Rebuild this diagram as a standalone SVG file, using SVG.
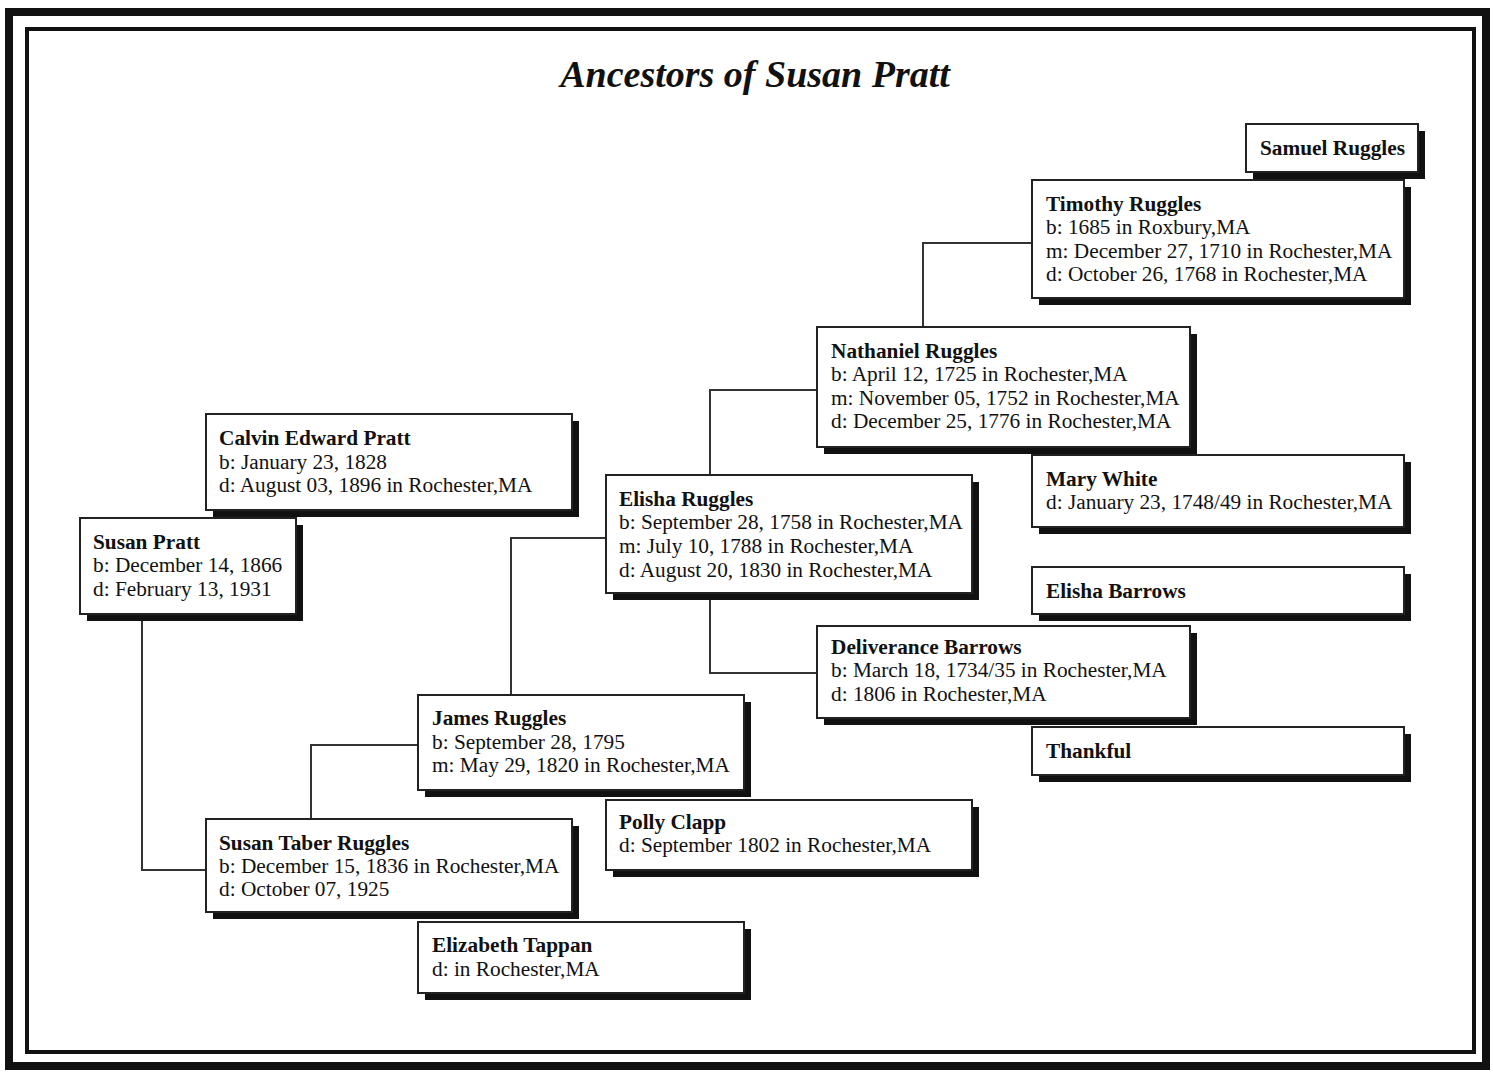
<svg xmlns="http://www.w3.org/2000/svg" width="1493" height="1072" viewBox="0 0 1493 1072">
<style>
.sh{fill:#111}
.bx{fill:#fff;stroke:#222;stroke-width:2}
text{font-family:"Liberation Serif","Times New Roman",serif;font-size:21.3px;fill:#111}
.n{font-weight:bold}
.t{font-size:38px;font-weight:bold;font-style:italic}
.c{fill:none;stroke:#333;stroke-width:2}
</style>
<rect width="1493" height="1072" fill="#fff"/>
<rect x="9" y="12" width="1477" height="1054" fill="none" stroke="#111" stroke-width="8"/>
<rect x="27" y="29" width="1447" height="1023" fill="none" stroke="#111" stroke-width="4"/>
<text class="t" x="755" y="87" text-anchor="middle">Ancestors of Susan Pratt</text>
<g id="connectors">
<polyline class="c" points="142,614 142,870 206,870"/>
<polyline class="c" points="311,819 311,745 418,745"/>
<polyline class="c" points="511,695 511,538 606,538"/>
<polyline class="c" points="710,475 710,390 817,390"/>
<polyline class="c" points="710,593 710,673 817,673"/>
<polyline class="c" points="923,327 923,243 1032,243"/>
</g>
<g id="samuel-ruggles">
<rect class="sh" x="1253" y="131" width="172" height="48"/>
<rect class="bx" x="1246" y="124" width="172" height="48"/>
<text class="n" x="1260" y="155">Samuel Ruggles</text>
</g>
<g id="timothy-ruggles">
<rect class="sh" x="1039" y="187" width="372" height="118"/>
<rect class="bx" x="1032" y="180" width="372" height="118"/>
<text class="n" x="1046" y="211">Timothy Ruggles</text>
<text x="1046" y="234">b: 1685 in Roxbury,MA</text>
<text x="1046" y="258">m: December 27, 1710 in Rochester,MA</text>
<text x="1046" y="281">d: October 26, 1768 in Rochester,MA</text>
</g>
<g id="nathaniel-ruggles">
<rect class="sh" x="824" y="334" width="373" height="120"/>
<rect class="bx" x="817" y="327" width="373" height="120"/>
<text class="n" x="831" y="358">Nathaniel Ruggles</text>
<text x="831" y="381">b: April 12, 1725 in Rochester,MA</text>
<text x="831" y="405">m: November 05, 1752 in Rochester,MA</text>
<text x="831" y="428">d: December 25, 1776 in Rochester,MA</text>
</g>
<g id="mary-white">
<rect class="sh" x="1039" y="462" width="372" height="72"/>
<rect class="bx" x="1032" y="455" width="372" height="72"/>
<text class="n" x="1046" y="486">Mary White</text>
<text x="1046" y="509">d: January 23, 1748/49 in Rochester,MA</text>
</g>
<g id="calvin-edward-pratt">
<rect class="sh" x="213" y="421" width="366" height="96"/>
<rect class="bx" x="206" y="414" width="366" height="96"/>
<text class="n" x="219" y="445">Calvin Edward Pratt</text>
<text x="219" y="469">b: January 23, 1828</text>
<text x="219" y="492">d: August 03, 1896 in Rochester,MA</text>
</g>
<g id="susan-pratt">
<rect class="sh" x="87" y="525" width="216" height="96"/>
<rect class="bx" x="80" y="518" width="216" height="96"/>
<text class="n" x="93" y="549">Susan Pratt</text>
<text x="93" y="572">b: December 14, 1866</text>
<text x="93" y="596">d: February 13, 1931</text>
</g>
<g id="elisha-ruggles">
<rect class="sh" x="613" y="482" width="366" height="118"/>
<rect class="bx" x="606" y="475" width="366" height="118"/>
<text class="n" x="619" y="506">Elisha Ruggles</text>
<text x="619" y="529">b: September 28, 1758 in Rochester,MA</text>
<text x="619" y="553">m: July 10, 1788 in Rochester,MA</text>
<text x="619" y="577">d: August 20, 1830 in Rochester,MA</text>
</g>
<g id="elisha-barrows">
<rect class="sh" x="1039" y="574" width="372" height="47"/>
<rect class="bx" x="1032" y="567" width="372" height="47"/>
<text class="n" x="1046" y="598">Elisha Barrows</text>
</g>
<g id="deliverance-barrows">
<rect class="sh" x="824" y="633" width="373" height="92"/>
<rect class="bx" x="817" y="626" width="373" height="92"/>
<text class="n" x="831" y="654">Deliverance Barrows</text>
<text x="831" y="677">b: March 18, 1734/35 in Rochester,MA</text>
<text x="831" y="701">d: 1806 in Rochester,MA</text>
</g>
<g id="thankful">
<rect class="sh" x="1039" y="734" width="372" height="48"/>
<rect class="bx" x="1032" y="727" width="372" height="48"/>
<text class="n" x="1046" y="758">Thankful</text>
</g>
<g id="james-ruggles">
<rect class="sh" x="425" y="702" width="326" height="95"/>
<rect class="bx" x="418" y="695" width="326" height="95"/>
<text class="n" x="432" y="725">James Ruggles</text>
<text x="432" y="749">b: September 28, 1795</text>
<text x="432" y="772">m: May 29, 1820 in Rochester,MA</text>
</g>
<g id="polly-clapp">
<rect class="sh" x="613" y="807" width="366" height="70"/>
<rect class="bx" x="606" y="800" width="366" height="70"/>
<text class="n" x="619" y="829">Polly Clapp</text>
<text x="619" y="852">d: September 1802 in Rochester,MA</text>
</g>
<g id="susan-taber-ruggles">
<rect class="sh" x="213" y="826" width="366" height="93"/>
<rect class="bx" x="206" y="819" width="366" height="93"/>
<text class="n" x="219" y="850">Susan Taber Ruggles</text>
<text x="219" y="873">b: December 15, 1836 in Rochester,MA</text>
<text x="219" y="896">d: October 07, 1925</text>
</g>
<g id="elizabeth-tappan">
<rect class="sh" x="425" y="929" width="326" height="71"/>
<rect class="bx" x="418" y="922" width="326" height="71"/>
<text class="n" x="432" y="952">Elizabeth Tappan</text>
<text x="432" y="976">d: in Rochester,MA</text>
</g>
</svg>
